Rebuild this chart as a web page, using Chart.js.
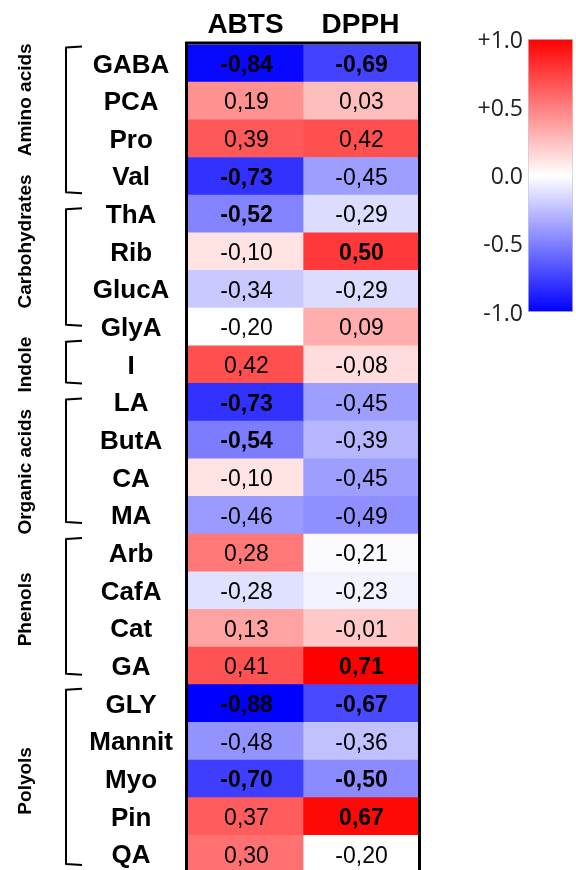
<!DOCTYPE html>
<html>
<head>
<meta charset="utf-8">
<script src="https://cdn.jsdelivr.net/npm/chart.js@4"></script>
<style>
  html, body { margin: 0; padding: 0; background: #fff; overflow: hidden; }
  #wrap { position: relative; width: 576px; height: 874px; }
  #heat { position: absolute; left: 0; top: 0; }
  #scale { position: absolute; left: 440px; top: 0; }
</style>
</head>
<body>
<div id="wrap">
  <canvas id="heat" width="576" height="874"></canvas>
  <canvas id="scale" width="136" height="330"></canvas>
</div>
<script>
// Compounds (rows) and assays (columns)
const compounds = ['GABA', 'PCA', 'Pro', 'Val', 'ThA', 'Rib', 'GlucA', 'GlyA', 'I', 'LA', 'ButA', 'CA', 'MA',
                   'Arb', 'CafA', 'Cat', 'GA', 'GLY', 'Mannit', 'Myo', 'Pin', 'QA'];
const assays = ['ABTS', 'DPPH'];

// Correlation coefficients per assay
const abts = [-0.84, 0.19, 0.39, -0.73, -0.52, -0.10, -0.34, -0.20, 0.42, -0.73, -0.54, -0.10, -0.46,
              0.28, -0.28, 0.13, 0.41, -0.88, -0.48, -0.70, 0.37, 0.30];
const dpph = [-0.69, 0.03, 0.42, -0.45, -0.29, 0.50, -0.29, 0.09, -0.08, -0.45, -0.39, -0.45, -0.49,
              -0.21, -0.23, -0.01, 0.71, -0.67, -0.36, -0.50, 0.67, -0.20];

// Compound classes: name, first row, last row
const groupNames = ['Amino acids', 'Carbohydrates', 'Indole', 'Organic acids', 'Phenols', 'Polyols'];
const groupStart = [0, 4, 8, 9, 13, 17];
const groupEnd   = [3, 7, 8, 12, 16, 21];

// Colour scale ticks
const scaleTicks = [-1, -0.5, 0, 0.5, 1];

// Bracket insets from the group's outer row edges, and label shifts (px)
const bracketTopInset = [2, 13, -5, 15, 4, 4];
const bracketBottomInset = [2, 20, 0, 11, 10, 8];
const labelShift = [-20, -29, 0, 13, 0, 2];

// Diverging blue-white-red colour for a coefficient
const WHITE_AT = -0.20, BLUE_AT = -0.86, RED_AT = 0.70;
function cellColor(v) {
  let r, g, b;
  if (v >= WHITE_AT) {
    const t = Math.min(1, (v - WHITE_AT) / (RED_AT - WHITE_AT));
    r = 255; g = b = Math.round(255 * (1 - t));
  } else {
    const t = Math.min(1, (WHITE_AT - v) / (WHITE_AT - BLUE_AT));
    b = 255; r = g = Math.round(255 * (1 - t));
  }
  return `rgb(${r},${g},${b})`;
}
const fmt = v => v.toFixed(2).replace('.', ',');
const series = [abts, dpph];
const SANS = '"Liberation Sans", Arial, sans-serif';

// Coefficient text inside each cell (bold when |r| >= 0.5)
const cellText = {
  id: 'cellText',
  afterDatasetsDraw(chart) {
    const c = chart.ctx;
    c.save();
    c.textAlign = 'center';
    c.textBaseline = 'middle';
    c.fillStyle = '#000';
    chart.data.datasets.forEach((ds, di) => {
      chart.getDatasetMeta(di).data.forEach((bar, i) => {
        const v = series[di][i];
        c.font = (Math.abs(v) >= 0.5 ? 'bold ' : '') + '23px ' + SANS;
        c.fillText(fmt(v), (bar.x + bar.base) / 2 + 1, bar.y + 2);
      });
    });
    c.restore();
  }
};

// Black frame around the matrix, class brackets and class names
const frameAndGroups = {
  id: 'frameAndGroups',
  afterDraw(chart) {
    const c = chart.ctx;
    const a = chart.chartArea;
    const y = chart.scales.y;
    const half = (y.bottom - y.top) / compounds.length / 2;
    c.save();
    c.strokeStyle = '#000';
    c.lineWidth = 3;
    c.lineJoin = 'miter';
    c.beginPath();
    c.moveTo(a.left - 1.5, chart.height);
    c.lineTo(a.left - 1.5, a.top - 1.5);
    c.lineTo(a.right + 1.5, a.top - 1.5);
    c.lineTo(a.right + 1.5, chart.height);
    c.stroke();

    c.lineWidth = 2;
    c.lineJoin = 'round';
    c.fillStyle = '#000';
    c.font = 'bold 19px ' + SANS;
    c.textAlign = 'center';
    c.textBaseline = 'middle';
    groupNames.forEach((name, gi) => {
      const top = y.getPixelForValue(groupStart[gi]) - half + bracketTopInset[gi];
      const bot = y.getPixelForValue(groupEnd[gi]) + half - bracketBottomInset[gi];
      c.beginPath();
      c.moveTo(82, top);
      c.lineTo(66, top + 1);
      c.lineTo(66, bot - 1);
      c.lineTo(82, bot);
      c.stroke();
      const mid = (y.getPixelForValue(groupStart[gi]) + y.getPixelForValue(groupEnd[gi])) / 2;
      c.save();
      c.translate(26, mid + labelShift[gi]);
      c.rotate(-Math.PI / 2);
      c.fillText(name, 0, 0);
      c.restore();
    });
    c.restore();
  }
};

new Chart(document.getElementById('heat'), {
  type: 'bar',
  data: {
    labels: compounds,
    datasets: assays.map((name, di) => ({
      label: name,
      data: compounds.map(() => 1),
      backgroundColor: series[di].map(cellColor),
      borderWidth: 0,
      barPercentage: 1,
      categoryPercentage: 1
    }))
  },
  options: {
    indexAxis: 'y',
    responsive: false,
    animation: false,
    devicePixelRatio: 1,
    layout: { padding: { left: 74, right: 158, top: 0, bottom: 1 } },
    plugins: { legend: { display: false }, tooltip: { enabled: false } },
    scales: {
      x: { type: 'linear', stacked: true, min: 0, max: 2, display: false },
      x2: {
        type: 'category', axis: 'x', position: 'top', labels: assays, offset: true,
        grid: { display: false, drawTicks: false }, border: { display: false },
        ticks: { color: '#000', padding: 2, font: { family: SANS, size: 28, weight: 'bold' } },
        afterFit: s => { s.height = 44.5; s.paddingLeft = 0; s.paddingRight = 0; }
      },
      y: {
        type: 'category', stacked: true, position: 'left',
        grid: { display: false, drawTicks: false }, border: { display: false },
        ticks: {
          color: '#000', padding: 15, crossAlign: 'center', labelOffset: 2, autoSkip: false,
          font: { family: SANS, size: 26, weight: 'bold' }
        },
        afterFit: s => { s.width = 114; s.paddingTop = 0; s.paddingBottom = 0; }
      }
    }
  },
  plugins: [cellText, frameAndGroups]
});

// Colour bar legend
new Chart(document.getElementById('scale'), {
  type: 'bar',
  data: {
    labels: [''],
    datasets: [{
      data: [[scaleTicks[0], scaleTicks[scaleTicks.length - 1]]],
      backgroundColor: ctx => {
        const a = ctx.chart.chartArea;
        if (!a) return '#fff';
        const g = ctx.chart.ctx.createLinearGradient(0, a.top, 0, a.bottom);
        g.addColorStop(0, 'rgb(255,0,0)');
        g.addColorStop(0.5, 'rgb(255,255,255)');
        g.addColorStop(1, 'rgb(0,0,255)');
        return g;
      },
      borderColor: '#c9c9d6',
      borderWidth: 1,
      borderSkipped: false,
      barPercentage: 1,
      categoryPercentage: 1
    }]
  },
  options: {
    responsive: false,
    animation: false,
    devicePixelRatio: 1,
    layout: { padding: { left: 0, right: 3, top: 39, bottom: 18 } },
    plugins: { legend: { display: false }, tooltip: { enabled: false } },
    scales: {
      x: { display: false },
      y: {
        min: -1, max: 1,
        grid: { display: false, drawTicks: false }, border: { display: false },
        afterBuildTicks: s => { s.ticks = scaleTicks.map(v => ({ value: v })); },
        ticks: {
          color: '#222', padding: 5, labelOffset: 2,
          font: { family: '"Open Sans", sans-serif', size: 23 },
          callback: v => (v > 0 ? '+' : '') + Number(v).toFixed(1)
        },
        afterFit: s => { s.width = 88; s.paddingTop = 0; s.paddingBottom = 0; }
      }
    }
  }
});
</script>
</body>
</html>
